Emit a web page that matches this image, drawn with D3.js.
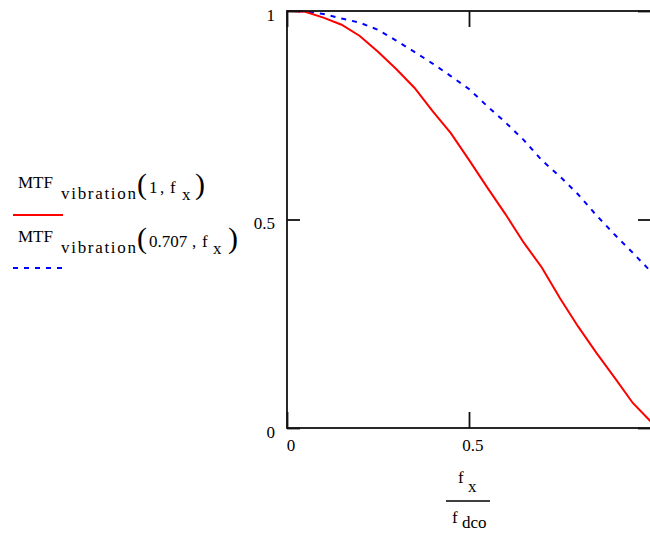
<!DOCTYPE html>
<html>
<head>
<meta charset="utf-8">
<script src="https://cdn.jsdelivr.net/npm/d3@7"></script>
<style>
  body { margin: 0; background: #fff; }
</style>
</head>
<body>
<div id="chart"></div>
<script>
    const width = 650, height = 533;

    // f_x / f_dco grid
    const freq = [0, 0.05, 0.10, 0.15, 0.20, 0.25, 0.30, 0.35, 0.40, 0.45, 0.50,
                  0.55, 0.60, 0.65, 0.70, 0.75, 0.80, 0.85, 0.90, 0.95, 1.00];
    // MTF_vibration(1, f_x)
    const mtfFull = [1.000, 0.998, 0.984, 0.967, 0.940, 0.902, 0.861, 0.816, 0.760, 0.707, 0.643,
                     0.577, 0.513, 0.445, 0.385, 0.311, 0.243, 0.180, 0.121, 0.060, 0.015];
    // MTF_vibration(0.707, f_x)
    const mtfHalf = [1.000, 0.999, 0.993, 0.982, 0.972, 0.955, 0.929, 0.902, 0.874, 0.844, 0.813,
                     0.772, 0.733, 0.691, 0.642, 0.603, 0.560, 0.510, 0.464, 0.420, 0.375];

    const xTicks = [0, 0.5, 1], xTickLabels = ["0", "0.5", ""];
    const yTicks = [0, 0.5, 1], yTickLabels = ["0", "0.5", "1"];

    const svg = d3.select("#chart").append("svg")
        .attr("width", width)
        .attr("height", height);

    const x = d3.scaleLinear().domain([0, 1]).range([287, 651]);
    const y = d3.scaleLinear().domain([0, 1]).range([428, 11]);

    // 曲线
    const line = vals => d3.line()
        .x((d, i) => x(freq[i]))
        .y(d => y(d))(vals);

    svg.append("path")
        .attr("d", line(mtfHalf))
        .attr("fill", "none")
        .attr("stroke", "#0000ff")
        .attr("stroke-width", 2)
        .attr("stroke-dasharray", "5,6");

    svg.append("path")
        .attr("d", line(mtfFull))
        .attr("fill", "none")
        .attr("stroke", "#ff0000")
        .attr("stroke-width", 2);

    // 坐标框
    svg.append("rect")
        .attr("x", x(0)).attr("y", y(1))
        .attr("width", x(1) - x(0)).attr("height", y(0) - y(1))
        .attr("fill", "none")
        .attr("stroke", "#111")
        .attr("stroke-width", 1.8);

    // 刻度（朝内）
    const styleAxis = g => {
        g.select(".domain").remove();
        g.attr("font-size", 17);
        g.selectAll("line").attr("stroke", "#111").attr("stroke-width", 1.8);
    };

    svg.append("g")
        .attr("transform", `translate(${x(0)},0)`)
        .call(d3.axisLeft(y).tickValues(yTicks).tickSize(-13).tickSizeOuter(0).tickPadding(12)
            .tickFormat((d, i) => yTickLabels[i]))
        .call(styleAxis)
        .call(g => g.selectAll("text").attr("dy", "0.55em"));

    svg.append("g")
        .attr("transform", `translate(${x(1)},0)`)
        .call(d3.axisRight(y).tickValues(yTicks).tickSize(-13).tickSizeOuter(0).tickFormat(""))
        .call(styleAxis);

    svg.append("g")
        .attr("transform", `translate(0,${y(0)})`)
        .call(d3.axisBottom(x).tickValues(xTicks).tickSize(-16).tickSizeOuter(0).tickPadding(11)
            .tickFormat((d, i) => xTickLabels[i]))
        .call(styleAxis)
        .call(g => g.selectAll("text").attr("dx", "0.2em"));

    svg.append("g")
        .attr("transform", `translate(0,${y(1)})`)
        .call(d3.axisTop(x).tickValues(xTicks).tickSize(-16).tickSizeOuter(0).tickFormat(""))
        .call(styleAxis);

    // x 轴标题： f_x / f_dco
    const xt = svg.append("g").attr("font-size", 17);
    xt.append("text").attr("x", 458).attr("y", 483).text("f");
    xt.append("text").attr("x", 468).attr("y", 492).text("x");
    xt.append("line").attr("x1", 446).attr("x2", 490).attr("y1", 501).attr("y2", 501)
        .attr("stroke", "#000").attr("stroke-width", 1.5);
    xt.append("text").attr("x", 452).attr("y", 523).text("f");
    xt.append("text").attr("x", 462).attr("y", 528).text("dco");

    // 图例
    const legend = [
        { arg: "1", base: 188, line: 215, color: "#ff0000", dash: null, fx: 170, sx: 182, rp: 195 },
        { arg: "0.707", base: 242, line: 268, color: "#0000ff", dash: "5,6", fx: 202, sx: 213, rp: 228 }
    ];
    legend.forEach(d => {
        const g = svg.append("g").attr("font-size", 17);
        g.append("text").attr("x", 18).attr("y", d.base).text("MTF");
        g.append("text").attr("x", 61).attr("y", d.base + 11).text("vibration")
            .attr("textLength", 75);
        g.append("text").attr("x", 137).attr("y", d.base + 6).attr("font-size", 30).text("(");
        g.append("text").attr("x", 149).attr("y", d.base + 5).text(d.arg);
        g.append("text").attr("x", d.fx - 10).attr("y", d.base + 5).text(",");
        g.append("text").attr("x", d.fx).attr("y", d.base + 5).text("f");
        g.append("text").attr("x", d.sx).attr("y", d.base + 12).text("x");
        g.append("text").attr("x", d.rp).attr("y", d.base + 6).attr("font-size", 30).text(")");
        g.append("line")
            .attr("x1", 13).attr("x2", 63).attr("y1", d.line).attr("y2", d.line)
            .attr("stroke", d.color).attr("stroke-width", 2)
            .attr("stroke-dasharray", d.dash);
    });

    // 所有文字统一用衬线字体
    svg.selectAll("text")
        .style("font-family", '"Liberation Serif", "Times New Roman", serif')
        .style("fill", "#000");
</script>
</body>
</html>
